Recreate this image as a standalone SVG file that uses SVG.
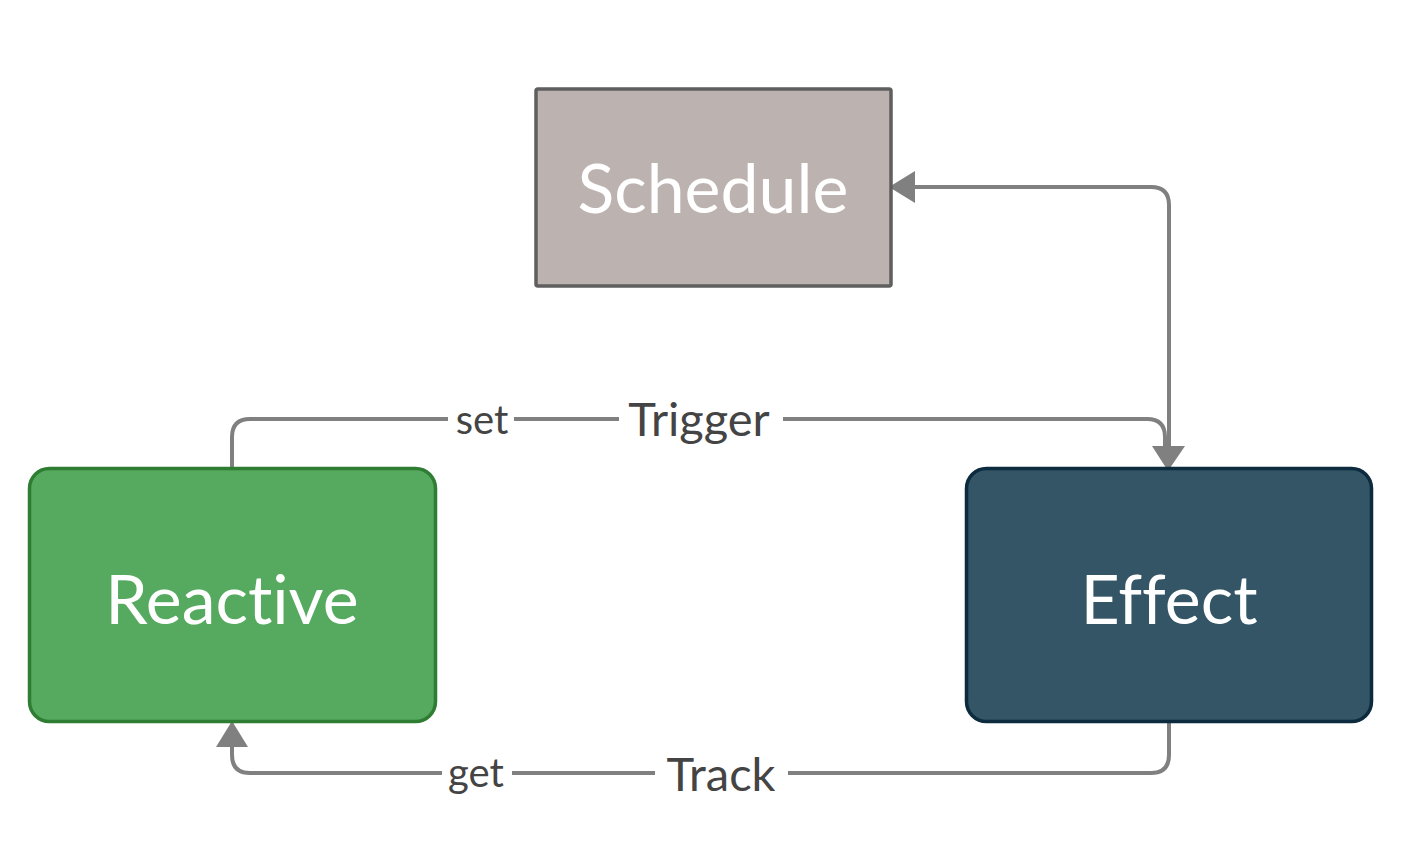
<svg xmlns="http://www.w3.org/2000/svg" width="1412" height="856" viewBox="0 0 1412 856">
<style>
.node-text{font-family:Lato,"Open Sans","Liberation Sans",sans-serif;fill:#ffffff;text-anchor:middle;font-variant-ligatures:none}
.lbl{font-family:Lato,"Open Sans","Liberation Sans",sans-serif;fill:#444444;text-anchor:middle;font-variant-ligatures:none}
.conn{fill:none;stroke:#808080;stroke-width:4}
.bg{fill:#ffffff}
</style>
<rect width="1412" height="856" fill="#ffffff"/>
<g id="connectors">
<path class="conn" d="M914,187 L1151,187 Q1169,187 1169,205 L1169,448"/>
<path d="M889,187 L915,171 L915,203 Z" fill="#808080"/>
<path d="M1168,471 L1152,446 L1185,446 Z" fill="#808080"/>
<path class="conn" d="M232,468 L232,437 Q232,419 250,419 L1147,419 Q1165,419 1165,437 L1165,448"/>
<path class="conn" d="M1169,722 L1169,755 Q1169,773 1151,773 L250,773 Q232,773 232,755 L232,746"/>
<path d="M232,721 L216,747 L248,747 Z" fill="#808080"/>
<rect class="bg" x="448" y="398" width="66" height="42"/>
<text class="lbl" x="482" y="434" font-size="40">set</text>
<rect class="bg" x="619" y="396" width="164" height="46"/>
<text class="lbl" x="699" y="436" font-size="47">Trigger</text>
<rect class="bg" x="442" y="752" width="70" height="42"/>
<text class="lbl" x="476" y="787" font-size="40">get</text>
<rect class="bg" x="655" y="750" width="133" height="46"/>
<text class="lbl" x="721" y="791" font-size="47">Track</text>
</g>
<g id="schedule">
<rect x="536" y="89" width="355" height="197" rx="2" fill="#bcb3b1" stroke="#5f5f5f" stroke-width="3.5"/>
<text class="node-text" x="713" y="213" font-size="68">Schedule</text>
</g>
<g id="reactive">
<rect x="29.5" y="468.5" width="406" height="253" rx="20" fill="#55aa60" stroke="#2e7d32" stroke-width="3.5"/>
<text class="node-text" x="232" y="624" font-size="68">Reactive</text>
</g>
<g id="effect">
<rect x="966.5" y="468.5" width="405" height="253" rx="20" fill="#335566" stroke="#0d2b3e" stroke-width="3.5"/>
<text class="node-text" x="1169" y="624" font-size="68">Effect</text>
</g>
</svg>
